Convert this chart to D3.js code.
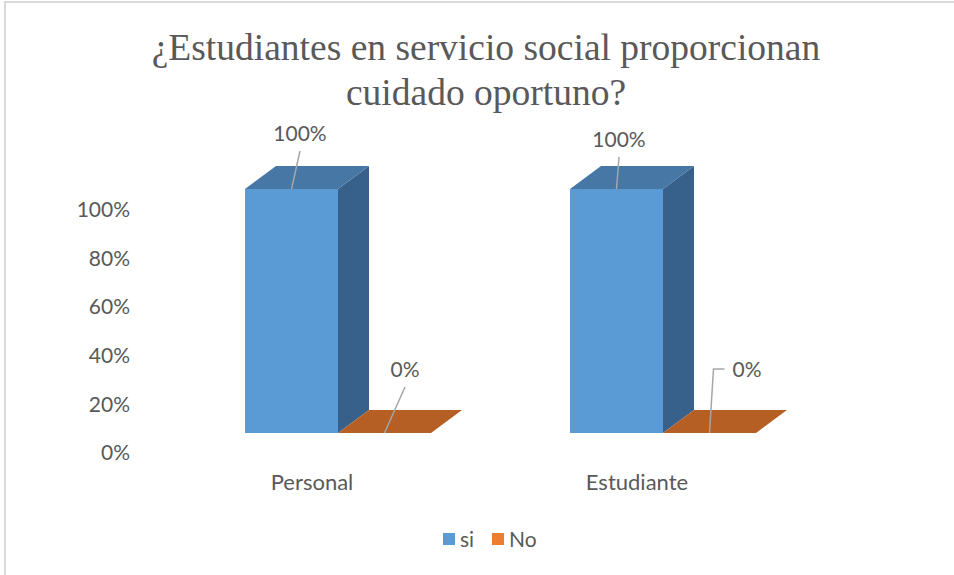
<!DOCTYPE html>
<html>
<head>
<meta charset="utf-8">
<script src="https://cdn.jsdelivr.net/npm/d3@7"></script>
<style>
  body { margin: 0; background: #fff; }
  text { font-family: Lato, "Open Sans", sans-serif; fill: #595959; }
  .title { font-family: "Liberation Serif", "Times New Roman", serif; }
</style>
</head>
<body>
<div class="chart"></div>
<script>
// data
const categories = ['Personal', 'Estudiante']
const seriesNames = ['si', 'No']
const siValues = [1, 1]
const noValues = [0, 0]
const yTicks = [0, 0.2, 0.4, 0.6, 0.8, 1]
const titleLines = ['¿Estudiantes en servicio social proporcionan', 'cuidado oportuno?']

// layout
const width = 954
const height = 575
const depth = { dx: 31, dy: -23 }
const colors = {
  si: { front: '#5b9bd5', top: '#4677a5', side: '#37618a', legend: '#5b9bd5' },
  No: { front: '#ed7d31', top: '#b55f24', side: '#8f4a1c', legend: '#ed7d31' }
}
// data label nudges (per category, per series), relative to front-top centre
const labelNudge = [
  [{ dx: 8.5, dy: -48 }, { dx: 20.5, dy: -56 }],
  [{ dx: 2.5, dy: -42 }, { dx: 37.5, dy: -56, elbow: true }]
]

const svg = d3.select('.chart')
  .append('svg')
  .attr('width', width)
  .attr('height', height)

// border
svg.append('rect')
  .attr('x', 5)
  .attr('y', 2)
  .attr('width', width + 10)
  .attr('height', height + 10)
  .attr('fill', 'none')
  .attr('stroke', '#d9d9d9')
  .attr('stroke-width', 2)

// title
svg.append('text')
  .attr('class', 'title')
  .attr('text-anchor', 'middle')
  .attr('font-size', 37.5)
  .selectAll('tspan')
  .data(titleLines)
  .enter()
  .append('tspan')
  .attr('x', 486)
  .attr('y', (d, i) => 60 + i * 45)
  .text(d => d)

const x0 = d3.scaleBand()
  .domain(categories)
  .range([165, 815])
  .paddingInner(0)
  .paddingOuter(0)

const x1 = d3.scaleBand()
  .domain(seriesNames)
  .range([80, 266])

// bar front face scale
const yBar = d3.scaleLinear()
  .domain([0, 1])
  .range([433, 189])

// axis label scale (Excel puts these lower than the bars)
const yAxisScale = d3.scaleLinear()
  .domain([0, 1])
  .range([453, 210])

const yAxis = d3.axisLeft(yAxisScale)
  .tickValues(yTicks)
  .tickFormat(d3.format('.0%'))
  .tickSize(0)
  .tickPadding(0)

const axisG = svg.append('g')
  .attr('transform', 'translate(130,0)')
  .call(yAxis)
axisG.select('.domain').remove()
axisG.selectAll('text')
  .attr('font-size', 21)
  .attr('font-family', 'Lato, sans-serif')
  .attr('fill', '#595959')

const rows = categories.map((c, i) => ({
  category: c,
  values: [
    { key: 'si', value: siValues[i] },
    { key: 'No', value: noValues[i] }
  ]
}))

const groups = svg.selectAll('.group')
  .data(rows)
  .enter()
  .append('g')
  .attr('class', 'group')

groups.each(function (row, ci) {
  const g = d3.select(this)
  row.values.forEach((d, si) => {
    const left = x0(row.category) + x1(d.key)
    const right = left + x1.bandwidth()
    const top = yBar(d.value)
    const bottom = yBar(0)
    const c = colors[d.key]
    const p = (x, y) => `${x},${y}`
    // side face
    if (bottom - top > 0) {
      g.append('polygon')
        .attr('points', [p(right, top), p(right + depth.dx, top + depth.dy),
          p(right + depth.dx, bottom + depth.dy), p(right, bottom)].join(' '))
        .attr('fill', c.side)
      g.append('rect')
        .attr('x', left)
        .attr('y', top)
        .attr('width', x1.bandwidth())
        .attr('height', bottom - top)
        .attr('fill', c.front)
    }
    // top face
    g.append('polygon')
      .attr('points', [p(left, top), p(left + depth.dx, top + depth.dy),
        p(right + depth.dx, top + depth.dy), p(right, top)].join(' '))
      .attr('fill', c.top)
  })
})

// data labels with leader lines
groups.each(function (row, ci) {
  const g = d3.select(this)
  row.values.forEach((d, si) => {
    const ax = x0(row.category) + x1(d.key) + x1.bandwidth() / 2
    const ay = yBar(d.value)
    const n = labelNudge[ci][si]
    const tx = ax + n.dx
    const ty = ay + n.dy
    let pts
    if (n.elbow) {
      pts = [[ax, ay], [ax + 4, ty - 8], [ax + 15, ty - 8]]
    } else {
      pts = [[ax, ay], [tx, ty + 10]]
    }
    g.append('path')
      .attr('d', d3.line()(pts))
      .attr('fill', 'none')
      .attr('stroke', '#a6a6a6')
      .attr('stroke-width', 1.5)
    g.append('text')
      .attr('x', tx)
      .attr('y', ty)
      .attr('text-anchor', 'middle')
      .attr('font-size', 21)
      .text(d3.format('.0%')(d.value))
  })
})

// category labels
svg.selectAll('.cat')
  .data(categories)
  .enter()
  .append('text')
  .attr('class', 'cat')
  .attr('x', d => x0(d) + 147)
  .attr('y', 490)
  .attr('text-anchor', 'middle')
  .attr('font-size', 22)
  .text(d => d)

// legend
const legendX = [443, 492]
const legend = svg.selectAll('.legend')
  .data(seriesNames)
  .enter()
  .append('g')
  .attr('class', 'legend')
  .attr('transform', (d, i) => `translate(${legendX[i]}, 533)`)
legend.append('rect')
  .attr('width', 12)
  .attr('height', 12)
  .attr('fill', d => colors[d].legend)
legend.append('text')
  .attr('x', 17)
  .attr('y', 14)
  .attr('font-size', 21)
  .text(d => d)
</script>
</body>
</html>
